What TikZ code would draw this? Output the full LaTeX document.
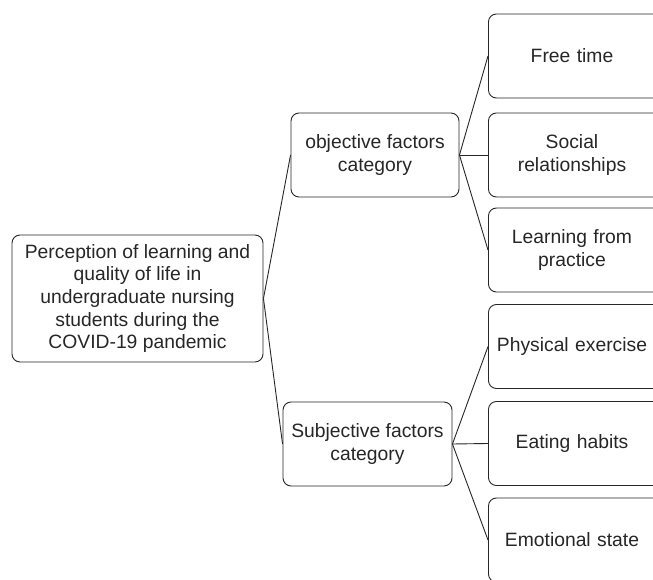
\documentclass[tikz,border=0pt]{standalone}
\usepackage{fontspec}
\setmainfont{Liberation Sans}
\begin{document}
\begin{tikzpicture}[x=1pt,y=-1pt,
  box/.style={draw=black!85, line width=0.9pt, rounded corners=8pt, align=center,
    font=\fontsize{19.3}{22.6}\selectfont, text=black!85, inner sep=0pt},
  link/.style={draw=black!85, line width=0.9pt}]
\useasboundingbox (0,0) rectangle (653,580);
\node[box, minimum width=251pt, minimum height=127pt] (root) at (137.5,298.5)
  {Perception of learning and\\quality of life in\\undergraduate nursing\\students during the\\COVID-19 pandemic};
\node[box, minimum width=168pt, minimum height=84pt] (obj) at (375,155)
  {objective factors\\category};
\node[box, minimum width=169pt, minimum height=84pt] (subj) at (367.5,444)
  {Subjective factors\\category};
\node[box, minimum width=180pt, minimum height=84pt, anchor=west] (r1) at (488,56) {};
\node[box, minimum width=180pt, minimum height=84pt, anchor=west] (r2) at (488,155) {};
\node[box, minimum width=180pt, minimum height=84pt, anchor=west] (r3) at (488,250) {};
\node[box, minimum width=180pt, minimum height=84pt, anchor=west] (r4) at (488,346.5) {};
\node[box, minimum width=180pt, minimum height=84pt, anchor=west] (r5) at (488,443.5) {};
\node[box, minimum width=180pt, minimum height=84pt, anchor=west] (r6) at (488,540) {};
\node[box, draw=none, text width=165pt] (t1) at (572,56) {Free time};
\node[box, draw=none, text width=165pt] (t2) at (572,155) {Social\\relationships};
\node[box, draw=none, text width=165pt] (t3) at (572,250) {Learning from\\practice};
\node[box, draw=none, text width=165pt] (t4) at (572,346.5) {Physical exercise};
\node[box, draw=none, text width=165pt] (t5) at (572,443.5) {Eating habits};
\node[box, draw=none, text width=165pt] (t6) at (572,540) {Emotional state};
\draw[link] (root.east) -- (obj.west);
\draw[link] (root.east) -- (subj.west);
\draw[link] (obj.east) -- (r1.west);
\draw[link] (obj.east) -- (r2.west);
\draw[link] (obj.east) -- (r3.west);
\draw[link] (subj.east) -- (r4.west);
\draw[link] (subj.east) -- (r5.west);
\draw[link] (subj.east) -- (r6.west);
\end{tikzpicture}
\end{document}
